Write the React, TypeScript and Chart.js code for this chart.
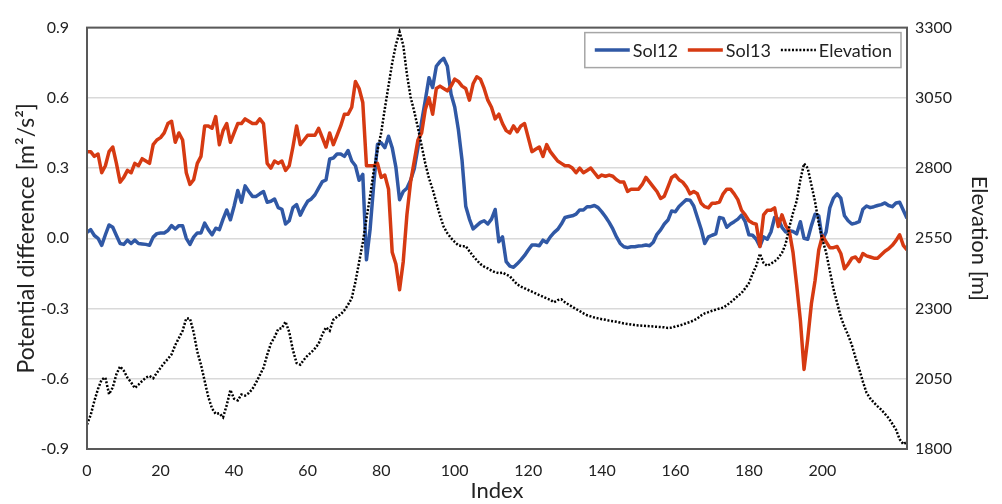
import React, { useEffect, useRef } from "react";
import { Chart, registerables } from "chart.js";

Chart.register(...registerables);

const FONT = "Lato, 'Open Sans', sans-serif";

// ---- data ----
const sol12: number[] = [
  0.025, 0.037, 0.012, 0.0, -0.03, 0.015, 0.057, 0.047, 0.012, -0.022,
  -0.026, -0.008, -0.022, -0.008, -0.022, -0.024, -0.026, -0.03, 0.005, 0.02,
  0.023, 0.023, 0.033, 0.054, 0.04, 0.054, 0.054, 0.0, -0.026, 0.005,
  0.023, 0.023, 0.065, 0.037, 0.015, 0.043, 0.037, 0.082, 0.121, 0.079,
  0.137, 0.204, 0.154, 0.224, 0.2, 0.179, 0.179, 0.19, 0.2, 0.154,
  0.158, 0.168, 0.131, 0.124, 0.061, 0.075, 0.131, 0.144, 0.099, 0.131,
  0.158, 0.168, 0.186, 0.214, 0.242, 0.249, 0.339, 0.343, 0.36, 0.36,
  0.35, 0.375, 0.33, 0.31, 0.248, 0.273, -0.092, 0.04, 0.235, 0.401,
  0.408, 0.387, 0.436, 0.387, 0.304, 0.165, 0.2, 0.214, 0.248, 0.297,
  0.387, 0.498, 0.589, 0.686, 0.644, 0.735, 0.755, 0.769, 0.735, 0.616,
  0.561, 0.464, 0.332, 0.137, 0.082, 0.04, 0.054, 0.068, 0.075, 0.061,
  0.082, 0.123, -0.015, 0.006, -0.1, -0.119, -0.124, -0.109, -0.092, -0.073,
  -0.05, -0.029, -0.029, -0.032, -0.008, -0.018, 0.006, 0.024, 0.038, 0.061,
  0.089, 0.093, 0.096, 0.103, 0.121, 0.121, 0.135, 0.135, 0.14, 0.131,
  0.113, 0.092, 0.068, 0.04, 0.006, -0.022, -0.036, -0.04, -0.036, -0.036,
  -0.033, -0.032, -0.029, -0.032, -0.017, 0.017, 0.036, 0.061, 0.078, 0.117,
  0.113, 0.136, 0.151, 0.165, 0.163, 0.138, 0.089, 0.04, -0.022, 0.006,
  0.013, 0.019, 0.089, 0.085, 0.047, 0.061, 0.071, 0.082, 0.099, 0.071,
  0.015, 0.013, -0.004, -0.035, 0.006, -0.004, 0.027, 0.089, 0.082, 0.047,
  0.027, 0.033, 0.029, 0.019, 0.071, 0.0, -0.004, 0.054, 0.103, 0.096,
  -0.008, 0.027, 0.13, 0.172, 0.19, 0.172, 0.096, 0.075, 0.061, 0.065,
  0.071, 0.124, 0.138, 0.131, 0.135, 0.14, 0.144, 0.151, 0.14, 0.135,
  0.151, 0.154, 0.12, 0.085,
];

const sol13: number[] = [
  0.37, 0.37, 0.35, 0.36, 0.28, 0.31, 0.37, 0.39, 0.32, 0.24,
  0.26, 0.29, 0.28, 0.32, 0.31, 0.34, 0.33, 0.32, 0.40, 0.42,
  0.43, 0.45, 0.49, 0.50, 0.41, 0.45, 0.42, 0.28, 0.23, 0.25,
  0.32, 0.35, 0.48, 0.48, 0.47, 0.52, 0.40, 0.46, 0.49, 0.41,
  0.45, 0.49, 0.49, 0.51, 0.50, 0.49, 0.49, 0.51, 0.49, 0.32,
  0.30, 0.33, 0.32, 0.33, 0.29, 0.31, 0.39, 0.48, 0.40, 0.42,
  0.44, 0.44, 0.44, 0.47, 0.43, 0.39, 0.45, 0.40, 0.44, 0.48,
  0.53, 0.53, 0.56, 0.67, 0.64, 0.58, 0.31, 0.31, 0.31, 0.32,
  0.26, 0.27, 0.21, -0.06, -0.11, -0.22, -0.10, 0.10, 0.24, 0.33,
  0.42, 0.45, 0.55, 0.60, 0.53, 0.64, 0.65, 0.64, 0.63, 0.65,
  0.68, 0.67, 0.65, 0.64, 0.59, 0.66, 0.69, 0.68, 0.64, 0.59,
  0.56, 0.51, 0.53, 0.49, 0.46, 0.45, 0.48, 0.455, 0.48, 0.49,
  0.43, 0.37, 0.38, 0.39, 0.35, 0.40, 0.37, 0.35, 0.33, 0.32,
  0.31, 0.31, 0.30, 0.28, 0.30, 0.28, 0.29, 0.30, 0.28, 0.26,
  0.27, 0.265, 0.27, 0.265, 0.25, 0.24, 0.24, 0.20, 0.21, 0.21,
  0.21, 0.23, 0.26, 0.24, 0.22, 0.20, 0.17, 0.18, 0.22, 0.26,
  0.27, 0.25, 0.24, 0.22, 0.19, 0.20, 0.19, 0.15, 0.135, 0.13,
  0.15, 0.15, 0.155, 0.19, 0.21, 0.21, 0.19, 0.165, 0.12, 0.10,
  0.075, 0.065, 0.06, -0.035, 0.10, 0.12, 0.12, 0.13, 0.05, 0.10,
  0.055, 0.03, -0.06, -0.20, -0.35, -0.56, -0.43, -0.28, -0.18, -0.05,
  0.01, -0.015, -0.04, -0.04, -0.035, -0.065, -0.13, -0.11, -0.085, -0.08,
  -0.10, -0.065, -0.075, -0.08, -0.085, -0.085, -0.07, -0.055, -0.045, -0.03,
  -0.01, 0.015, -0.03, -0.05,
];

const elevation: number[] = [
  1887, 1921, 1971, 2014, 2048, 2054, 1995, 2019, 2066, 2094,
  2079, 2054, 2037, 2017, 2029, 2042, 2054, 2060, 2052, 2071,
  2089, 2106, 2121, 2137, 2170, 2195, 2221, 2265, 2264, 2216,
  2146, 2100, 2042, 1985, 1944, 1925, 1927, 1913, 1956, 2010,
  1979, 1973, 1994, 1990, 1999, 2014, 2037, 2063, 2089, 2135,
  2175, 2198, 2227, 2230, 2253, 2216, 2152, 2106, 2100, 2118,
  2133, 2144, 2158, 2175, 2208, 2233, 2221, 2260, 2271, 2279,
  2294, 2314, 2337, 2395, 2465, 2535, 2620, 2701, 2793, 2862,
  2926, 3012, 3093, 3174, 3238, 3285, 3238, 3134, 3053, 3001,
  2943, 2880, 2816, 2764, 2724, 2677, 2631, 2591, 2568, 2551,
  2537, 2525, 2522, 2522, 2504, 2487, 2472, 2458, 2449, 2443,
  2435, 2429, 2426, 2428, 2421, 2415, 2400, 2386, 2378, 2372,
  2366, 2360, 2354, 2348, 2342, 2336, 2331, 2322, 2330, 2333,
  2322, 2314, 2306, 2298, 2291, 2283, 2276, 2272, 2268, 2265,
  2262, 2260, 2257, 2255, 2253, 2250, 2247, 2245, 2243, 2241,
  2240, 2239, 2238, 2237, 2236, 2235, 2234, 2233, 2231, 2232,
  2236, 2239, 2243, 2248, 2252, 2258, 2265, 2275, 2283, 2287,
  2292, 2296, 2300, 2303, 2312, 2322, 2333, 2345, 2355, 2372,
  2390, 2423, 2452, 2495, 2462, 2452, 2460, 2468, 2480, 2498,
  2530, 2590, 2640, 2683, 2758, 2816, 2800, 2740, 2680, 2603,
  2545, 2500, 2435, 2370, 2320, 2270, 2235, 2205, 2170, 2125,
  2085, 2040, 2000, 1980, 1965, 1952, 1940, 1925, 1910, 1890,
  1869, 1835, 1817, 1825,
];

const indexLabels: number[] = sol12.map((_, i) => i);

const xTicks: number[] = [0, 20, 40, 60, 80, 100, 120, 140, 160, 180, 200];
const leftTicks: number[] = [-0.9, -0.6, -0.3, 0, 0.3, 0.6, 0.9];
const rightTicks: number[] = [1800, 2050, 2300, 2550, 2800, 3050, 3300];

const seriesNames: string[] = ["Sol12", "Sol13", "Elevation"];
const seriesColors: string[] = ["#3058A5", "#D63A12", "#000000"];

// ---- plugins ----
const framePlugin = {
  id: "frame",
  afterDatasetsDraw(chart: any) {
    const { ctx, chartArea: a } = chart;
    ctx.save();
    ctx.strokeStyle = "#595959";
    ctx.lineWidth = 2;
    ctx.strokeRect(a.left, a.top, a.right - a.left, a.bottom - a.top);
    ctx.restore();
  },
};

const boxLegendPlugin = {
  id: "boxLegend",
  afterDraw(chart: any) {
    const { ctx, chartArea: a } = chart;
    const ds = chart.data.datasets;
    ctx.save();
    ctx.font = `18px ${FONT}`;
    const padL = 10;
    const lineLen = 35;
    const gapLT = 3;
    const gapItem = 10;
    const padR = 9;
    let total = padL;
    ds.forEach((d: any, i: number) => {
      total += lineLen + gapLT + ctx.measureText(d.label).width;
      if (i < ds.length - 1) total += gapItem;
    });
    total += padR;
    const right = a.right - 6;
    const left = right - total;
    const top = a.top + 5;
    const h = 35;
    ctx.fillStyle = "#ffffff";
    ctx.fillRect(left, top, total, h);
    ctx.strokeStyle = "#a6a6a6";
    ctx.lineWidth = 1.5;
    ctx.strokeRect(left, top, total, h);
    const cy = top + h / 2;
    let x = left + padL;
    ds.forEach((d: any) => {
      ctx.beginPath();
      ctx.strokeStyle = d.borderColor;
      ctx.lineWidth = d.borderWidth;
      ctx.setLineDash(d.borderDash || []);
      ctx.moveTo(x, cy);
      ctx.lineTo(x + lineLen, cy);
      ctx.stroke();
      ctx.setLineDash([]);
      x += lineLen + gapLT;
      ctx.fillStyle = "#222";
      ctx.textBaseline = "middle";
      ctx.textAlign = "left";
      ctx.fillText(d.label, x, cy + 1);
      x += ctx.measureText(d.label).width + gapItem;
    });
    ctx.restore();
  },
};

export default function App() {
  const ref = useRef<HTMLCanvasElement | null>(null);

  useEffect(() => {
    if (!ref.current) return;
    const chart = new Chart(ref.current, {
      type: "line",
      data: {
        labels: indexLabels,
        datasets: [
          {
            label: seriesNames[0],
            data: sol12,
            borderColor: seriesColors[0],
            backgroundColor: seriesColors[0],
            borderWidth: 3.5,
            pointRadius: 0,
            tension: 0,
            borderJoinStyle: "round",
            yAxisID: "y",
            order: 3,
          },
          {
            label: seriesNames[1],
            data: sol13,
            borderColor: seriesColors[1],
            backgroundColor: seriesColors[1],
            borderWidth: 3.5,
            pointRadius: 0,
            tension: 0,
            borderJoinStyle: "round",
            yAxisID: "y",
            order: 2,
          },
          {
            label: seriesNames[2],
            data: elevation,
            borderColor: seriesColors[2],
            backgroundColor: seriesColors[2],
            borderWidth: 2.5,
            borderDash: [2, 1.7],
            pointRadius: 0,
            tension: 0,
            yAxisID: "y1",
            order: 1,
          },
        ],
      } as any,
      options: {
        responsive: false,
        animation: false,
        devicePixelRatio: 1,
        layout: { padding: { top: 17, left: 0, right: 0, bottom: 0 } },
        plugins: {
          legend: { display: false },
          tooltip: { enabled: false },
        },
        scales: {
          x: {
            type: "linear",
            min: 0,
            max: indexLabels.length - 1,
            grid: { display: false, drawTicks: false },
            border: { display: false },
            afterBuildTicks: (scale: any) => {
              scale.ticks = xTicks.map((v) => ({ value: v }));
            },
            afterFit: (scale: any) => {
              scale.height = 55;
            },
            ticks: {
              autoSkip: false,
              maxRotation: 0,
              padding: 12,
              color: "#222",
              font: { family: FONT, size: 16 },
              callback: (v: any) => String(v),
            },
            title: {
              display: true,
              text: "Index",
              color: "#222",
              font: { family: FONT, size: 22 },
              padding: { top: 0, bottom: 0 },
            },
          },
          y: {
            type: "linear",
            position: "left",
            min: -0.9,
            max: 0.9,
            grid: { color: "#d9d9d9", lineWidth: 1.5, drawTicks: false },
            border: { display: false },
            afterBuildTicks: (scale: any) => {
              scale.ticks = leftTicks.map((v) => ({ value: v }));
            },
            afterFit: (scale: any) => {
              scale.width = 87;
            },
            ticks: {
              padding: 18,
              color: "#222",
              font: { family: FONT, size: 16 },
              callback: (v: any) => Number(v).toFixed(1),
            },
            title: {
              display: true,
              text: "Potential difference [m²/s²]",
              color: "#222",
              font: { family: FONT, size: 23 },
              padding: { top: 13, bottom: 0 },
            },
          },
          y1: {
            type: "linear",
            position: "right",
            min: 1800,
            max: 3300,
            grid: { display: false, drawTicks: false },
            border: { display: false },
            afterBuildTicks: (scale: any) => {
              scale.ticks = rightTicks.map((v) => ({ value: v }));
            },
            afterFit: (scale: any) => {
              scale.width = 95;
            },
            ticks: {
              padding: 8,
              color: "#222",
              font: { family: FONT, size: 16 },
              callback: (v: any) => String(v),
            },
            title: {
              display: true,
              text: "Elevation [m]",
              color: "#222",
              font: { family: FONT, size: 22 },
              padding: { top: 10, bottom: 0 },
            },
          },
        },
      } as any,
      plugins: [framePlugin, boxLegendPlugin],
    });
    return () => chart.destroy();
  }, []);

  return (
    <div style={{ position: "fixed", left: 0, top: 0, width: 1002, height: 504, background: "#fff" }}>
      <canvas ref={ref} width={1002} height={504} style={{ display: "block" }} />
    </div>
  );
}
